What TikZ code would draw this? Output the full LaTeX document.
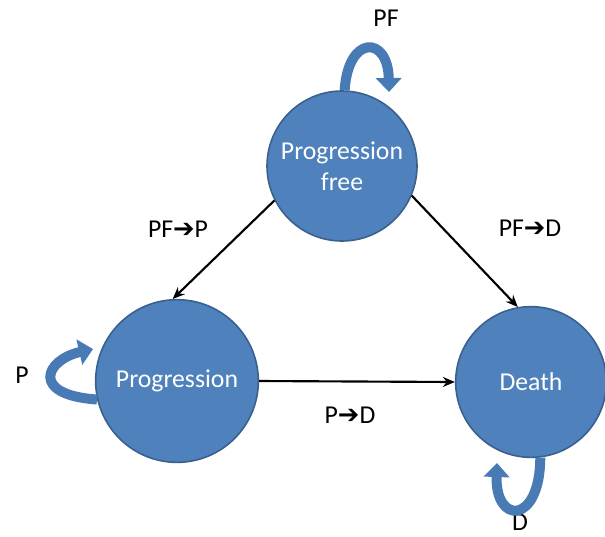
\documentclass[tikz,border=0pt]{standalone}
\usepackage{fontspec}
\setmainfont{Carlito}
\newfontfamily\symfont{DejaVu Sans}
\usetikzlibrary{arrows,arrows.meta}
\definecolor{stateblue}{RGB}{79,129,189}
\definecolor{stateedge}{RGB}{58,96,142}
\definecolor{loopblue}{RGB}{72,122,182}
\newcommand{\tto}{{\symfont\symbol{"2794}}}
\tikzset{>={Stealth[length=9pt,width=7.5pt]},
	state/.style={circle,fill=stateblue,draw=stateedge,line width=1.2pt,text=white,align=center,inner sep=0pt,font=\fontsize{19.3}{23}\selectfont},
	tlabel/.style={inner sep=1pt,font=\fontsize{19.3}{23}\selectfont},
	loopband/.style={draw=loopblue,line width=7.5pt,-{Triangle[length=10.5pt,width=19pt]}},
	trans/.style={->,line width=1.6pt}}
\begin{document}
\begin{tikzpicture}[x=0.75pt,y=-0.75pt]
	\useasboundingbox (0,0) rectangle (605,536);
	\node (pf) at (342,166) [state,minimum size=112.5pt] {Progression\\free};
	\node (prog) at (177,381) [state,minimum size=122pt] {Progression};
	\node (death) at (531,382) [state,minimum size=113pt] {Death};
	\node (lpf) at (386,18) [tlabel] {PF};
	\node (lpfp) at (178,229) [tlabel] {PF\tto P};
	\node (lpfd) at (530,228) [tlabel] {PF\tto D};
	\node (lp) at (22,375) [tlabel] {P};
	\node (lpd) at (350,415) [tlabel] {P\tto D};
	\node (ld) at (520,522) [tlabel] {D};
	\draw[trans] (pf.207) -- (prog.93);
	\draw[trans] (pf.-23) -- (death.100);
	\draw[trans] (prog.0) -- (death.180);
	\draw[loopband] (pf.88) .. controls (348,35) and (388,35) .. (389,92);
	\draw[loopband] (prog.193) .. controls (30,395) and (45,360) .. (93,349);
	\draw[loopband] (death.-83) .. controls (540,525) and (495,525) .. (497,463);
\end{tikzpicture}
\end{document}
